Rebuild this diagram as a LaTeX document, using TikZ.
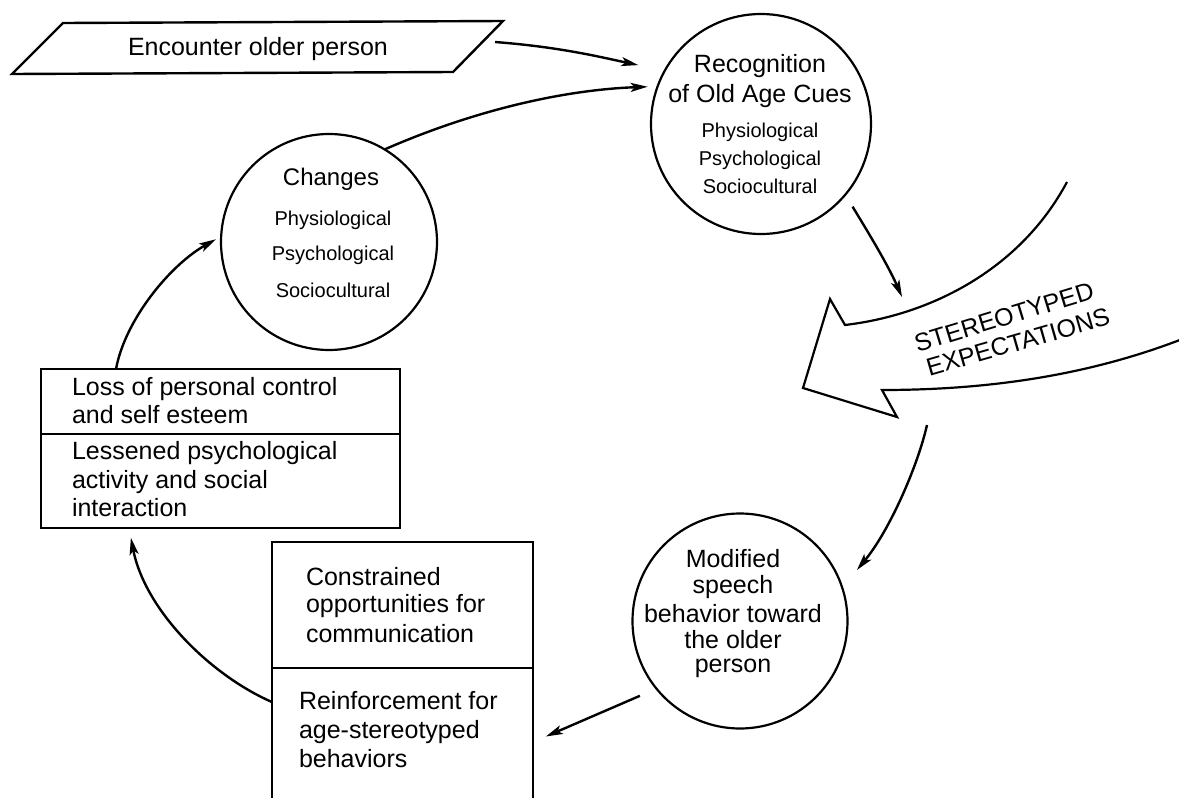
\documentclass[tikz,border=0pt]{standalone}
\usepackage{fontspec}
\setmainfont{Liberation Sans}
\usetikzlibrary{arrows.meta,calc}
\begin{document}
\begin{tikzpicture}[x=1pt,y=-1pt,
  every node/.style={inner sep=0pt, outer sep=0pt},
  txt/.style={font=\fontsize{25}{29}\selectfont, anchor=base},
  txtl/.style={font=\fontsize{25}{29}\selectfont, anchor=base west},
  sub/.style={font=\fontsize{20}{24}\selectfont, anchor=base},
  ring/.style={draw, circle, line width=2.2pt},
  box/.style={draw, rectangle, anchor=north west, line width=2.4pt},
  arr/.style={-{Stealth[length=17pt,width=9pt,inset=4pt]}, line width=2.4pt},
  bigtxt/.style={font=\fontsize{25}{29}\selectfont}
]
\useasboundingbox (0,0) rectangle (1179,798);
\clip (0,0) rectangle (1179,798);
\fill[white] (0,0) rectangle (1179,798);

% parallelogram
\draw[line width=2.4pt, line join=miter] (63,23) -- (503,21) -- (453,72) -- (12,74) -- cycle;
\node[txtl] (enc) at (128,55) {Encounter older person};
\coordinate (encR) at (495,42);

% circles
\node[ring, minimum size=220pt] (recog) at (761,124) {};
\node[ring, minimum size=216pt] (changes) at (329,242) {};
\node[ring, minimum size=215pt] (modif) at (740,621) {};

% boxes
\node[box, minimum width=359pt, minimum height=65pt] (lossA) at (41,369) {};
\node[box, minimum width=359pt, minimum height=94pt] (lossB) at (41,434) {};
\node[box, minimum width=261pt, minimum height=126pt] (constr) at (272,542) {};
\node[box, minimum width=261pt, minimum height=162pt] (reinf) at (272,668) {};

% recognition text
\node[txt] (r1) at (760,72) {Recognition};
\node[txt] (r2) at (760,102) {of Old Age Cues};
\node[sub] (r3) at (760,137) {Physiological};
\node[sub] (r4) at (760,165) {Psychological};
\node[sub] (r5) at (760,193) {Sociocultural};

% changes text
\node[txt, font=\fontsize{24}{28}\selectfont] (c1) at (331,185) {Changes};
\node[sub] (c2) at (333,225) {Physiological};
\node[sub] (c3) at (333,260) {Psychological};
\node[sub] (c4) at (333,297) {Sociocultural};

% modified text
\node[txt] (m1) at (733,567) {Modified};
\node[txt] (m2) at (733,593) {speech};
\node[txt] (m3) at (733,622) {behavior toward};
\node[txt] (m4) at (733,648) {the older};
\node[txt] (m5) at (733,672) {person};

% loss box text
\node[txtl] (l1) at (72,395) {Loss of personal control};
\node[txtl] (l2) at (72,423) {and self esteem};
\node[txtl] (l3) at (72,459) {Lessened psychological};
\node[txtl] (l4) at (72,488) {activity and social};
\node[txtl] (l5) at (72,516) {interaction};

% bottom box text
\node[txtl] (b1) at (306,585) {Constrained};
\node[txtl] (b2) at (306,612) {opportunities for};
\node[txtl] (b3) at (306,642) {communication};
\node[txtl] (b4) at (299,709) {Reinforcement for};
\node[txtl] (b5) at (299,738) {age-stereotyped};
\node[txtl] (b6) at (299,767) {behaviors};

% big arrow
\draw[line width=2.2pt, line join=miter] (1067,182) .. controls (1020,270) and (930,315) .. (845,325)
  -- (830,299) -- (803,388) -- (897,417) -- (882,390)
  .. controls (1000,390) and (1100,372) .. (1190,336);
\node[bigtxt, rotate=17] (st1) at (1004,317) {STEREOTYPED};
\node[bigtxt, rotate=16] (st2) at (1018,342) {EXPECTATIONS};
\coordinate (a3e) at (902,297);
\coordinate (a4s) at (927,425);

% connectors
\draw[arr, shorten >=27pt] (encR) .. controls (560,47) and (600,57) .. (recog.151);
\draw[arr, shorten >=10pt] (changes.59) .. controls (470,112) and (560,90) .. (recog.160);
\draw[arr, shorten <=14pt] (recog.-40) .. controls (868,232) and (888,265) .. (a3e);
\draw[arr, shorten >=23pt] (a4s) .. controls (918,465) and (890,530) .. (modif.18);
\draw[arr, shorten <=18pt, shorten >=14pt] (modif.-141) -- ($(reinf.north east)!0.457!(reinf.south east)$);
\draw[arr, shorten >=10pt] ($(reinf.north west)!0.21!(reinf.south west)$) .. controls (210,675) and (145,610) .. ($(lossB.south west)!0.245!(lossB.south east)$);
\draw[arr, shorten >=6pt] ($(lossA.north west)!0.209!(lossA.north east)$) .. controls (125,320) and (170,265) .. (changes.177);
\end{tikzpicture}
\end{document}
